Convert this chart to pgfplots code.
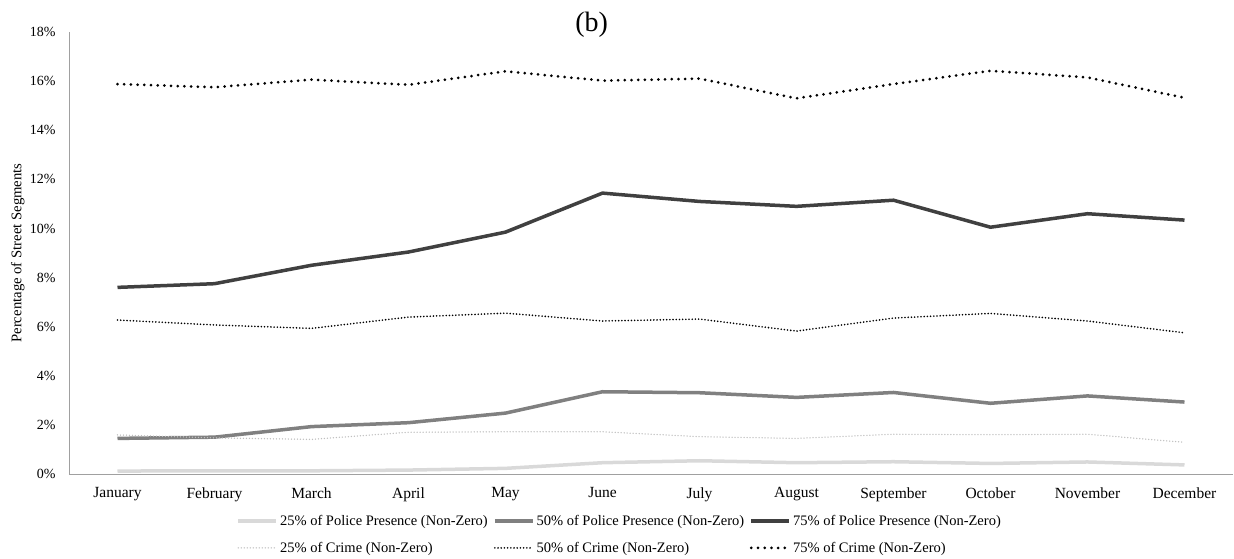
\documentclass[border=0pt]{standalone}
\usepackage{pgfplots}
\pgfplotsset{compat=1.18}
\usepackage{fontspec}
\setmainfont{Liberation Serif}
\definecolor{pp25}{HTML}{D9D9D9}
\definecolor{pp50}{HTML}{808080}
\definecolor{pp75}{HTML}{404040}
\definecolor{cr25}{HTML}{BFBFBF}
\definecolor{axgray}{HTML}{A0A0A0}
\begin{document}
\begin{tikzpicture}
\useasboundingbox (-69pt,-84pt) rectangle (1165pt,474pt);
\begin{axis}[
  scale only axis,
  width=1164pt, height=442pt,
  at={(0,0)}, anchor=south west,
  xmin=-0.5, xmax=11.5, ymin=0, ymax=18,
  axis x line*=bottom, axis y line*=left,
  axis line style={axgray, line width=0.8pt},
  xtick={0,...,11},
  xticklabels={January,February,March,April,May,June,July,August,September,October,November,December},
  ytick={0,2,...,18},
  yticklabel={\pgfmathprintnumber{\tick}\%},
  /pgf/number format/assume math mode=true,
  major tick length=0pt,
  xticklabel style={font=\fontsize{15.5}{17}\selectfont, yshift=-10pt},
  yticklabel style={font=\fontsize{14}{16}\selectfont, xshift=-10pt},
  every axis y label/.style={at={(axis description cs:-0.044,0.5)}, rotate=90, anchor=center, font=\fontsize{14.7}{16}\selectfont},
  ylabel={Percentage of Street Segments},
  legend columns=3,
  legend cell align=left,
  legend style={draw=none, at={(0.4745,-0.084)}, anchor=north, font=\fontsize{14.5}{16}\selectfont, row sep=11pt,
    /tikz/every even column/.append style={column sep=0pt}},
  legend image code/.code={\draw[#1] (0pt,0pt) -- (38pt,0pt);},
  clip=false,
]
\addplot[pp25, line width=3.5pt] coordinates {(0,0.12) (1,0.13) (2,0.13) (3,0.16) (4,0.23) (5,0.46) (6,0.54) (7,0.46) (8,0.50) (9,0.43) (10,0.49) (11,0.37)};
\addlegendentry{\makebox[211pt][l]{25\% of Police Presence (Non-Zero)}}
\addplot[pp50, line width=3.5pt] coordinates {(0,1.45) (1,1.50) (2,1.93) (3,2.09) (4,2.48) (5,3.35) (6,3.31) (7,3.12) (8,3.32) (9,2.88) (10,3.18) (11,2.93)};
\addlegendentry{\makebox[211pt][l]{50\% of Police Presence (Non-Zero)}}
\addplot[pp75, line width=3.5pt] coordinates {(0,7.60) (1,7.75) (2,8.50) (3,9.04) (4,9.85) (5,11.44) (6,11.10) (7,10.90) (8,11.15) (9,10.05) (10,10.60) (11,10.34)};
\addlegendentry{\makebox[211pt][l]{75\% of Police Presence (Non-Zero)}}
\addplot[cr25, line width=1.5pt, line cap=round, dash pattern=on 0pt off 3pt] coordinates {(0,1.59) (1,1.47) (2,1.41) (3,1.70) (4,1.72) (5,1.72) (6,1.52) (7,1.45) (8,1.62) (9,1.60) (10,1.62) (11,1.29)};
\addlegendentry{\makebox[211pt][l]{25\% of Crime (Non-Zero)}}
\addplot[black, line width=1.8pt, line cap=round, dash pattern=on 0pt off 3.2pt] coordinates {(0,6.27) (1,6.07) (2,5.93) (3,6.39) (4,6.55) (5,6.23) (6,6.31) (7,5.82) (8,6.35) (9,6.54) (10,6.23) (11,5.75)};
\addlegendentry{\makebox[211pt][l]{50\% of Crime (Non-Zero)}}
\addplot[black, line width=3pt, line cap=round, dash pattern=on 0pt off 6.7pt] coordinates {(0,15.88) (1,15.75) (2,16.06) (3,15.85) (4,16.40) (5,16.02) (6,16.10) (7,15.30) (8,15.88) (9,16.42) (10,16.15) (11,15.32)};
\addlegendentry{\makebox[211pt][l]{75\% of Crime (Non-Zero)}}
\node[font=\fontsize{28}{32}\selectfont] at (rel axis cs:0.449,1) [yshift=7pt] {(b)};
\end{axis}
\end{tikzpicture}
\end{document}
